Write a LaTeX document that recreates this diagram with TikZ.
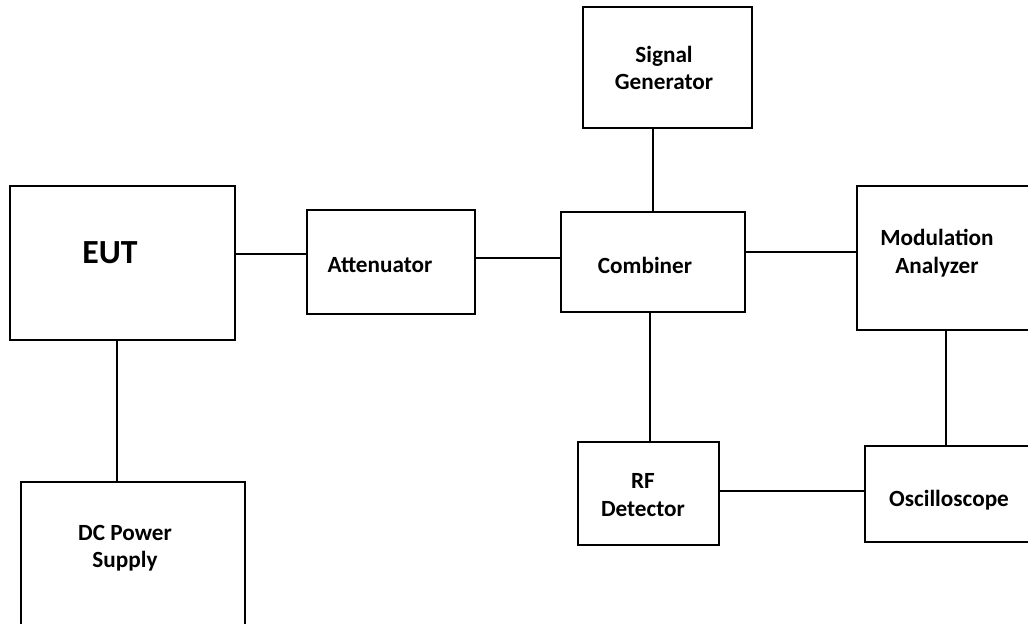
\documentclass[tikz,border=0pt]{standalone}
\usepackage{fontspec}
\setmainfont{Carlito}
\usetikzlibrary{positioning}

\begin{document}
\begin{tikzpicture}[x=0.025cm, y=-0.025cm, line width=1.3pt,
	blk/.style={draw, minimum width=#1, inner sep=0pt},
	lbl/.style={font=\bfseries\fontsize{16.5}{19.5}\selectfont, align=center}]
	\useasboundingbox (0,0) rectangle (1028,624);
	\clip (0,0) rectangle (1028,624);
	% boxes
	\node[blk=5.625cm, minimum height=3.85cm] (eut) at (122.5,263) {};
	\node[blk=5.6cm, minimum height=3.95cm] (dc) at (133,561) {};
	\node[blk=4.2cm, minimum height=2.6cm] (att) at (391,262) {};
	\node[blk=4.225cm, minimum height=3.025cm] (sig) at (667.5,67.5) {};
	\node[blk=4.6cm, minimum height=2.5cm] (comb) at (653,262) {};
	\node[blk=4.7cm, minimum height=3.6cm] (mod) at (951,258) {};
	\node[blk=3.525cm, minimum height=2.575cm] (rf) at (648.5,493.5) {};
	\node[blk=4.5cm, minimum height=2.4cm] (osc) at (955,494) {};
	% texts
	\node[lbl, font=\bfseries\fontsize{24}{28}\selectfont] (eutT) at (110,253) {EUT};
	\node[lbl] (dcT) at (125,548) {DC Power\\Supply};
	\node[lbl] (attT) at (380,265) {Attenuator};
	\node[lbl] (sigT) at (664,68) {Signal\\Generator};
	\node[lbl] (combT) at (645,265) {Combiner};
	\node[lbl] (modT) at (937,253) {Modulation\\Analyzer};
	\node[lbl] (rfT) at (643,495) {RF\\Detector};
	\node[lbl] (oscT) at (949,500) {Oscilloscope};
	% links
	\draw (eut.east |- 0,254) -- (att.west |- 0,254);
	\draw (att.east |- 0,258) -- (comb.west |- 0,258);
	\draw (sig.south -| 653,0) -- (comb.north);
	\draw (comb.east |- 0,252) -- (mod.west |- 0,252);
	\draw (comb.south -| 650,0) -- (rf.north -| 650,0);
	\draw (mod.south -| 946,0) -- (osc.north -| 946,0);
	\draw (rf.east |- 0,491) -- (osc.west |- 0,491);
	\draw (eut.south -| 117,0) -- (dc.north -| 117,0);
\end{tikzpicture}
\end{document}
